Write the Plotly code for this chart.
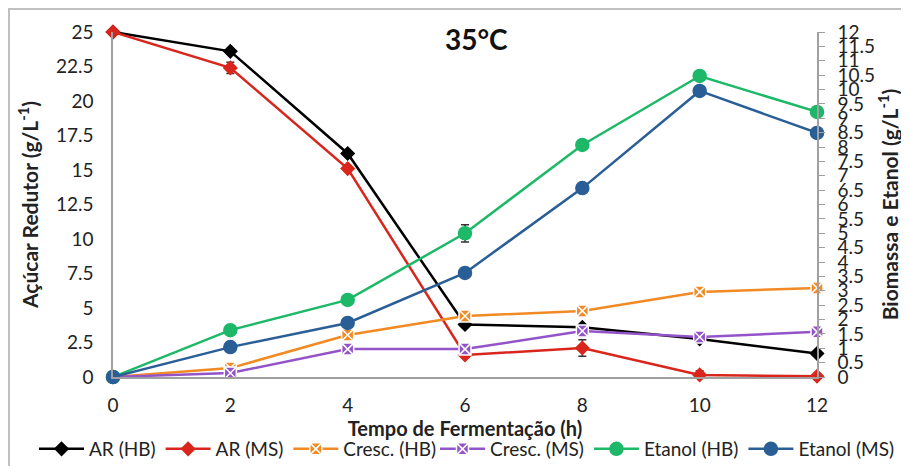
import plotly.graph_objects as go

tempo = [0, 2, 4, 6, 8, 10, 12]
ar_hb = [25, 23.6, 16.2, 3.8, 3.6, 2.75, 1.7]
ar_ms = [25, 22.4, 15.1, 1.6, 2.1, 0.15, 0.05]
ar_ms_err = [0, 0.4, 0, 0, 0.6, 0.3, 0]
cresc_hb = [0, 0.31, 1.46, 2.12, 2.3, 2.96, 3.1]
cresc_ms = [0, 0.14, 0.97, 0.97, 1.6, 1.39, 1.57]
etanol_hb = [0, 1.63, 2.68, 5.0, 8.07, 10.47, 9.22]
etanol_hb_err = [0, 0.1, 0, 0.3, 0, 0.15, 0]
etanol_ms = [0, 1.04, 1.88, 3.62, 6.57, 9.95, 8.49]
etanol_ms_err = [0, 0.1, 0, 0, 0.15, 0, 0]

left_ticks = [0, 2.5, 5, 7.5, 10, 12.5, 15, 17.5, 20, 22.5, 25]
right_ticks = [i * 0.5 for i in range(25)]

FONT = "Lato"
W, H = 909, 466
L, R, T, B = 105, 100, 24, 97
PW, PH = W - L - R, H - T - B

def px_x(x):
    return (x - L) / PW

def px_y(y):
    return 1 - (y - T) / PH

fig = go.Figure()

def add(name, y, color, symbol, size, axis, legend, err=None, mline=None):
    fig.add_trace(go.Scatter(
        x=tempo, y=y, name=name, mode="lines+markers", yaxis=axis, legend=legend,
        line=dict(color=color, width=2.5),
        marker=dict(symbol=symbol, size=size, color=color,
                    line=dict(color=mline or color, width=1.5)),
        error_y=dict(type="data", array=err, visible=err is not None,
                     color="#333", thickness=1.5, width=4),
        cliponaxis=False,
    ))

add("AR (HB)", ar_hb, "#000000", "diamond", 10, "y", "legend")
add("AR (MS)", ar_ms, "#D9261C", "diamond", 10, "y", "legend", ar_ms_err)
add("Cresc. (HB)", cresc_hb, "#F28A24", "square-x", 12, "y2", "legend", mline="#ffffff")
add("Cresc. (MS)", cresc_ms, "#9254C8", "square-x", 12, "y2", "legend2", mline="#ffffff")
add("Etanol (HB)", etanol_hb, "#1DB868", "circle", 13, "y2", "legend2", etanol_hb_err)
add("Etanol (MS)", etanol_ms, "#2A5E96", "circle", 13, "y2", "legend2", etanol_ms_err)

leg_common = dict(orientation="h", xanchor="left", y=px_y(441), yanchor="middle",
                  font=dict(size=19, color="#222"), tracegroupgap=0,
                  itemwidth=45, bgcolor="rgba(0,0,0,0)")

fig.update_layout(
    width=W, height=H,
    margin=dict(l=L, r=R, t=T, b=B, autoexpand=False),
    paper_bgcolor="white", plot_bgcolor="white",
    font=dict(family=FONT, color="#222", size=18),
    showlegend=True,
    legend=dict(x=px_x(26), **leg_common),
    legend2=dict(x=px_x(427), **leg_common),
    xaxis=dict(range=[0, 12], tickvals=tempo, showgrid=False, zeroline=False,
               showline=True, linecolor="#A0A0A0", linewidth=1.5, ticks="",
               tickfont=dict(size=19), ticklabelstandoff=10,
               title=dict(text="<b>Tempo de Fermentação (h)</b>", standoff=0,
                          font=dict(size=20))),
    yaxis=dict(range=[0, 25], tickvals=left_ticks, showgrid=False, zeroline=False,
               showline=True, linecolor="#A0A0A0", linewidth=1.5, ticks="",
               tickfont=dict(size=19), ticklabelstandoff=14,
               title=dict(text="<b>Açúcar Redutor (g/L<sup>-1</sup>)</b>",
                          font=dict(size=21), standoff=12)),
    yaxis2=dict(range=[0, 12], tickvals=right_ticks, overlaying="y", side="right",
                showgrid=False, zeroline=False, showline=True, linecolor="#A0A0A0",
                linewidth=1.5, ticks="outside", ticklen=6, tickcolor="#A0A0A0",
                tickfont=dict(size=19), ticklabelstandoff=9,
                title=dict(text="<b>Biomassa e Etanol (g/L<sup>-1</sup>)</b>",
                           font=dict(size=21), standoff=9)),
    annotations=[dict(text="<b>35°C</b>", x=px_x(468), y=px_y(31), xref="paper", yref="paper",
                      showarrow=False, font=dict(size=28, color="#111"),
                      xanchor="center", yanchor="middle")],
    shapes=[dict(type="rect", xref="paper", yref="paper", x0=px_x(1), x1=px_x(W + 20),
                 y0=px_y(H + 20), y1=px_y(1), line=dict(color="#C0C0C0", width=2))],
)

fig.write_html("out.html")
